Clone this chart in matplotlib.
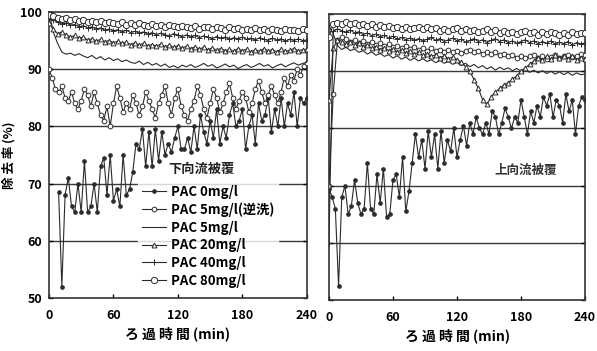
import numpy as np
import matplotlib.pyplot as plt
from matplotlib.lines import Line2D

plt.rcParams['font.family'] = ['Noto Sans CJK JP', 'DejaVu Sans']

# ---- 下向流被覆 (left panel) ----
down_0 = [68.5, 52, 68, 71, 66, 65, 70, 65, 74, 65, 66, 70, 65, 73, 74.5, 68, 75, 67, 69, 66,
          75, 68, 69, 72, 77, 76, 79.5, 73, 79, 73, 79.5, 74, 79, 75, 77, 75.5, 78, 80, 76, 76,
          78, 75.5, 80, 76, 82, 79, 77, 81, 78, 83, 77, 80, 78, 82, 84, 80, 81, 83, 76, 80,
          82, 77, 84, 81, 82, 85, 79, 83, 80, 85, 80, 84, 82, 86, 80, 85, 84, 85]
down_5bw = [90.0, 88.5, 86.5, 86.0, 87.0, 85.0, 84.5, 86.0, 84.0, 83.0,
            84.5, 86.5, 85.5, 83.5, 86.0, 84.0, 82.0, 81.0, 83.5, 80.0,
            84.0, 87.0, 85.0, 82.5, 84.0, 83.0, 85.5, 84.0, 82.0, 83.5,
            86.0, 84.5, 83.0, 81.5, 84.0, 85.5, 87.0, 84.0, 82.0, 85.0,
            86.5, 83.5, 82.0, 81.0, 83.0, 84.5, 87.0, 85.5, 83.0, 81.5,
            84.0, 86.5, 85.0, 82.5, 84.0, 86.0, 87.5, 85.0, 83.0, 84.5,
            86.0, 85.0, 82.5, 84.0, 86.5, 88.0, 86.0, 84.0, 85.5, 87.0,
            85.5, 84.0, 86.0, 88.5, 87.0, 89.0, 88.0, 90.0, 89.0, 90.5, 91.0]
down_5 = [100.0, 96.5, 94.5, 93.0, 92.6, 92.8, 92.4, 92.7, 92.3, 92.0, 92.4, 91.8, 92.2, 91.6, 92.0,
          91.5, 91.8, 91.3, 91.6, 91.2, 91.0, 91.4, 90.8, 91.2, 90.7, 91.0, 90.5, 90.9, 90.3, 90.6,
          90.2, 90.7, 90.4, 90.8, 90.3, 90.6, 91.0, 90.5, 90.8, 90.2, 90.5, 90.9, 90.4, 90.7, 90.1,
          90.5, 90.8, 90.3, 90.6, 91.0, 90.5, 90.8, 90.2, 90.6, 90.9, 90.4, 90.8, 91.1, 90.7, 91.0, 91.2]
down_20 = [98.0, 97.0, 96.2, 96.5, 96.0, 95.6, 95.9, 95.4, 95.6, 95.1, 95.3, 94.9, 95.2, 94.8, 95.0,
           94.6, 94.9, 94.5, 94.7, 94.3, 94.6, 94.2, 94.5, 94.1, 94.3, 94.0, 94.4, 93.9, 94.2, 93.8,
           94.1, 93.7, 94.0, 93.6, 93.9, 93.5, 93.8, 93.4, 93.7, 93.3, 93.6, 93.2, 93.5, 93.1, 93.6,
           93.2, 93.5, 93.0, 93.4, 93.1, 93.6, 93.2, 93.4, 93.0, 93.5, 93.1, 93.3, 93.6, 93.2, 93.4, 93.5]
down_40 = [99.0, 98.6, 98.2, 97.9, 98.1, 97.7, 97.8, 97.4, 97.6, 97.2, 97.4, 97.0, 97.2, 96.8, 97.0,
           96.7, 96.9, 96.5, 96.8, 96.4, 96.6, 96.3, 96.5, 96.1, 96.4, 96.0, 96.3, 96.0, 95.8, 96.2,
           95.9, 95.7, 96.0, 95.6, 95.9, 95.5, 95.8, 95.6, 95.3, 95.7, 95.4, 95.6, 95.2, 95.5, 95.3,
           95.6, 95.2, 95.4, 95.1, 95.5, 95.2, 95.0, 95.4, 95.1, 95.3, 94.9, 95.2, 95.0, 95.3, 95.0, 95.1]
down_80 = [99.5, 99.3, 99.0, 98.8, 99.0, 98.6, 98.7, 98.4, 98.6, 98.3, 98.5, 98.2, 98.4, 98.0, 98.3,
           98.1, 97.9, 98.2, 97.8, 98.0, 97.7, 98.1, 97.8, 97.6, 97.9, 97.5, 97.8, 97.4, 97.7, 97.5,
           97.3, 97.6, 97.4, 97.2, 97.5, 97.1, 97.4, 97.3, 97.0, 97.4, 97.2, 96.9, 97.3, 97.0, 97.2,
           96.8, 97.1, 96.9, 97.2, 96.8, 97.0, 96.7, 97.1, 96.9, 96.6, 97.0, 96.8, 96.9, 96.7, 97.0, 96.8]

# ---- 上向流被覆 (right panel) ----
up_0 = [69.5, 68, 66, 52.5, 68, 70, 65, 66.5, 71, 67, 65, 66, 74, 66, 65, 72, 67, 73, 64.5, 65,
        71, 72, 68, 75, 65.5, 69, 74, 79, 75, 78, 73, 79.5, 75, 79, 73, 79.5, 74, 78, 76, 80,
        75, 78, 80.5, 77, 81, 79, 82, 80, 79, 81, 79, 83, 82, 79, 81, 83.5, 82, 80, 82, 81,
        85, 82, 79, 83, 81, 84, 82, 85.5, 84, 86, 82, 85, 84, 81, 86, 83, 85, 79, 84, 85.5, 85]
up_5bw = [70.0, 86.0, 95.5, 96.0, 95.6, 95.2, 95.5, 95.0, 95.3, 94.8, 95.1, 94.6, 94.9, 94.4, 94.7,
          94.2, 94.5, 94.0, 94.4, 93.9, 94.2, 93.7, 94.1, 93.6, 94.0, 93.5, 93.8, 93.4, 93.7, 93.3,
          93.6, 93.2, 93.5, 93.8, 93.3, 93.6, 93.1, 93.4, 93.0, 93.3, 92.8, 93.1, 92.6, 92.9, 92.4,
          92.7, 92.3, 92.6, 92.9, 92.4, 92.7, 92.2, 92.5, 92.8, 92.3, 92.6, 92.9, 92.5, 92.7, 93.0, 92.8]
up_5 = [98.0, 96.5, 94.5, 93.8, 94.2, 93.6, 93.9, 93.3, 93.6, 93.0, 93.4, 92.8, 93.1, 92.6, 92.9,
        92.3, 92.7, 92.1, 92.5, 91.9, 92.3, 91.8, 92.2, 91.7, 92.0, 91.5, 91.9, 91.4, 91.7, 91.2,
        91.6, 91.0, 91.4, 90.8, 91.2, 90.6, 91.0, 90.4, 90.8, 90.2, 90.7, 90.3, 90.6, 90.1, 90.5,
        90.0, 90.4, 89.8, 90.2, 89.7, 90.1, 89.6, 90.0, 89.5, 89.9, 89.4, 89.8, 89.3, 89.7, 89.4, 89.5]
up_20 = [85.0, 94.0, 95.5, 95.2, 94.8, 95.1, 94.6, 94.9, 94.3, 94.6, 94.0, 94.3, 93.8, 94.1, 93.6,
         93.9, 93.4, 93.7, 93.2, 93.5, 93.0, 93.3, 92.8, 93.1, 92.6, 92.9, 92.4, 92.7, 92.2, 92.5,
         92.0, 91.6, 90.8, 90.0, 88.5, 87.0, 85.0, 84.2, 85.5, 86.4, 87.0, 87.6, 88.0, 88.6, 89.2,
         90.0, 90.6, 91.2, 91.8, 92.4, 91.9, 92.6, 92.1, 92.8, 92.3, 92.7, 92.2, 92.6, 92.0, 92.4, 92.1]
up_40 = [60.0, 97.0, 97.4, 97.1, 96.8, 97.2, 96.7, 96.9, 96.4, 96.7, 96.2, 96.5, 96.0, 96.3, 95.8,
         96.1, 95.6, 95.9, 95.5, 95.8, 95.4, 95.7, 95.3, 95.6, 95.9, 95.4, 95.7, 95.2, 95.5, 95.8,
         95.3, 95.6, 95.1, 95.4, 95.7, 95.2, 95.5, 95.0, 95.4, 95.7, 95.2, 95.5, 95.0, 95.3, 94.9,
         95.2, 95.5, 95.0, 95.3, 94.8, 95.2, 94.9, 95.3, 94.7, 95.1, 94.8, 95.2, 94.6, 95.0, 94.8, 94.9]
up_80 = [96.0, 98.2, 98.5, 98.3, 98.6, 98.2, 98.4, 98.0, 98.3, 97.9, 98.2, 97.8, 98.1, 97.7, 97.9,
         97.5, 97.8, 97.4, 97.7, 97.3, 97.6, 97.8, 97.4, 97.7, 97.3, 97.5, 97.1, 97.4, 97.0, 97.3,
         97.5, 97.1, 97.4, 97.0, 97.2, 96.8, 97.1, 97.3, 96.9, 97.2, 96.7, 97.0, 96.6, 96.9, 96.5,
         96.8, 97.0, 96.6, 96.9, 96.4, 96.8, 96.5, 96.9, 96.6, 96.3, 96.7, 96.4, 96.8, 96.5, 96.7, 96.6]

labels = ['PAC 0mg/l', 'PAC 5mg/l(逆洗)', 'PAC 5mg/l', 'PAC 20mg/l', 'PAC 40mg/l', 'PAC 80mg/l']
xticks = [0, 60, 120, 180, 240]
yticks = [50, 60, 70, 80, 90, 100]

ink = '#2b2b2b'
styles = [dict(marker='o', ms=2.6, mfc=ink),
          dict(marker='o', ms=3.4, mfc='white'),
          dict(marker=None),
          dict(marker='^', ms=3.5, mfc='white'),
          dict(marker='+', ms=4),
          dict(marker='o', ms=4.5, mfc='white')]


def draw(ax, series, t0_list):
    for vals, t0, st in zip(series, t0_list, styles):
        t = np.linspace(t0, 240, len(vals))
        ax.plot(t, vals, color=ink, lw=0.8, mec=ink, mew=0.7, zorder=3, **st)
    for g in [60, 70, 80, 90]:
        ax.axhline(g, color='#3a3a3a', lw=1.0, zorder=0)
    ax.set_xlim(0, 240)
    ax.set_ylim(50, 100)
    ax.set_xticks(xticks)
    ax.set_yticks(yticks)
    ax.tick_params(direction='in', length=3, width=1, top=False, right=True, labelsize=9)
    ax.tick_params(axis='x', pad=8)
    ax.tick_params(axis='y', pad=5)
    for lab in ax.get_xticklabels() + ax.get_yticklabels():
        lab.set_fontweight('bold')
    for s in ax.spines.values():
        s.set_linewidth(1.2)
        s.set_color('#333333')
    ax.set_xlabel('ろ 過 時 間 (min)', fontsize=10, fontweight='bold', labelpad=3)


fig = plt.figure(figsize=(5.97, 3.51), dpi=100)
ax1 = fig.add_axes([0.082, 0.151, 0.432, 0.815])
ax2 = fig.add_axes([0.551, 0.145, 0.429, 0.815])

draw(ax1, [down_0, down_5bw, down_5, down_20, down_40, down_80], [9, 0, 0, 0, 0, 0])
draw(ax2, [up_0, up_5bw, up_5, up_20, up_40, up_80], [0, 0, 0, 0, 0, 0])

ax1.set_ylabel('除 去 率 (%)', fontsize=9, fontweight='bold', labelpad=3)
ax2.tick_params(labelleft=False)

handles = [Line2D([], [], color=ink, lw=0.8, mec=ink, mew=0.7, **st) for st in styles]
leg = ax1.legend(handles, labels, loc='upper left',
                 bbox_to_anchor=(0.345, 0.41), frameon=True, fancybox=False,
                 prop={'size': 9.5, 'weight': 'bold'},
                 handlelength=1.8, handletextpad=0.4,
                 labelspacing=0.28, borderpad=0.3, borderaxespad=0.0)
leg.get_frame().set_facecolor('white')
leg.get_frame().set_edgecolor('white')
leg.set_zorder(1.5)

ax1.text(0.59, 0.452, '下向流被覆', transform=ax1.transAxes, ha='center', va='center',
         fontsize=9.5, fontweight='bold', color='#222222', zorder=4)
ax2.text(0.77, 0.454, '上向流被覆', transform=ax2.transAxes, ha='center', va='center',
         fontsize=9, fontweight='bold', color='#333333')

fig.savefig('out.png', dpi=100)
